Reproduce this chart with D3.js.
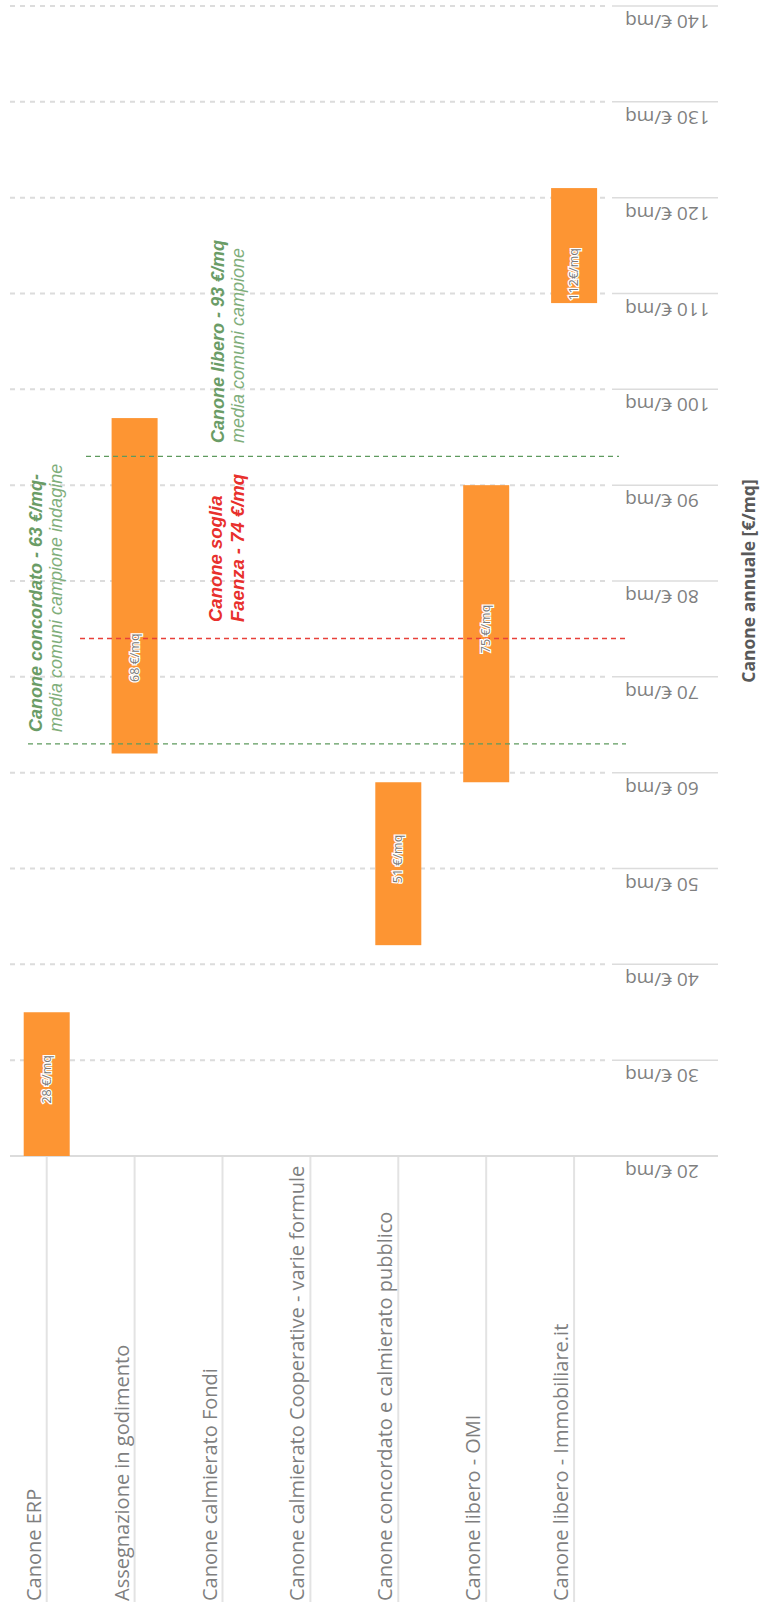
<!DOCTYPE html>
<html><head><meta charset="utf-8">
<script src="https://cdn.jsdelivr.net/npm/d3@7"></script>
<style>body{margin:0;background:#fff}svg{display:block}</style>
</head><body>
<svg id="c" width="760" height="1610"></svg>
<script>
const categories = ["Canone ERP","Assegnazione in godimento","Canone calmierato Fondi","Canone calmierato Cooperative - varie formule","Canone concordato e calmierato pubblico","Canone libero - OMI","Canone libero - Immobiliare.it"];
const lowValues  = [20, 62, null, null, 42, 59, 109];
const highValues = [35, 97, null, null, 59, 90, 121];
const barLabels  = ["28 €/mq","68 €/mq",null,null,"51 €/mq","75 €/mq","112€/mq"];
const barLabelAt = [28, 72, null, null, 51, 75, 112];
const tickValues = [20,30,40,50,60,70,80,90,100,110,120,130,140];
const tickLabels = ["20 €/mq","30 €/mq","40 €/mq","50 €/mq","60 €/mq","70 €/mq","80 €/mq","90 €/mq","100 €/mq","110 €/mq","120 €/mq","130 €/mq","140 €/mq"];
const refValues = [63, 93, 74];
const axisTitle = "Canone annuale [€/mq]";

const svg = d3.select("#c");
const y = d3.scaleLinear().domain([20,140]).range([1156, 6]);
const x = d3.scalePoint().domain(categories).range([46.7, 574.1]);
const barW = 46;
const grid = "#dcdcdc";

// gridlines
const g = svg.append("g");
tickValues.forEach((v,i)=>{
  const yy = y(v);
  if (v === 20) {
    g.append("line").attr("x1",10).attr("x2",718).attr("y1",yy).attr("y2",yy)
      .attr("stroke",grid).attr("stroke-width",2);
  } else {
    g.append("line").attr("x1",10).attr("x2",606).attr("y1",yy).attr("y2",yy)
      .attr("stroke",grid).attr("stroke-width",2).attr("stroke-dasharray","5,5");
    g.append("line").attr("x1",612).attr("x2",718).attr("y1",yy).attr("y2",yy)
      .attr("stroke",grid).attr("stroke-width",1.5);
  }
  g.append("text").attr("transform",`translate(625,${yy+9}) rotate(180)`)
    .attr("text-anchor","end").attr("font-family","Open Sans").attr("font-size",19)
    .attr("fill","#7f7f7f").text(tickLabels[i]);
});

// category separators and labels
categories.forEach((c,i)=>{
  const cx = x(c);
  g.append("line").attr("x1",cx).attr("x2",cx).attr("y1",1157).attr("y2",1602)
    .attr("stroke","#e3e3e3").attr("stroke-width",2);
  g.append("text").attr("transform",`translate(${cx-6},1601) rotate(-90)`)
    .attr("text-anchor","start").attr("font-family","Open Sans").attr("font-size",20)
    .attr("fill","#7f7f7f").text(c);
});

// bars
const data = categories.map((c,i)=>({c, lo:lowValues[i], hi:highValues[i], lab:barLabels[i], at:barLabelAt[i]})).filter(d=>d.lo!=null);
svg.append("g").selectAll("rect").data(data).join("rect")
  .attr("x",d=>x(d.c)-barW/2).attr("width",barW)
  .attr("y",d=>y(d.hi)).attr("height",d=>y(d.lo)-y(d.hi))
  .attr("fill","#fd9533");

// reference lines
const refs = [
  {v:refValues[0], x1:28, x2:626, color:"#5e9a5e"},
  {v:refValues[1], x1:86, x2:619, color:"#5e9a5e"},
  {v:refValues[2], x1:80, x2:628, color:"#e8403a"}
];
refs.forEach(r=>{
  svg.append("line").attr("x1",r.x1).attr("x2",r.x2).attr("y1",y(r.v)).attr("y2",y(r.v))
    .attr("stroke",r.color).attr("stroke-width",1.3).attr("stroke-dasharray","5,4");
});

// bar labels
svg.append("g").selectAll("text").data(data).join("text")
  .attr("transform",d=>`translate(${x(d.c)+4},${y(d.at)}) rotate(-90)`)
  .attr("text-anchor","middle").attr("font-family","Open Sans").attr("font-size",12.5)
  .attr("fill","#7a7a7a").attr("stroke","#ffffff").attr("stroke-width",2.5)
  .attr("paint-order","stroke").text(d=>d.lab);

// annotations
function ann(xb, yb, txt, opts){
  const t = svg.append("text").attr("transform",`translate(${xb},${yb}) rotate(-90)`)
    .attr("font-family","Liberation Sans, Arial").attr("font-size",opts.size||18)
    .attr("font-style","italic").attr("font-weight",opts.bold?"bold":"normal")
    .attr("fill",opts.color);
  if (Array.isArray(txt)) txt.forEach(p=>t.append("tspan").attr("font-style",p.s||"italic").text(p.t));
  else t.text(txt);
}
ann(42, 732, "Canone concordato - 63 €/mq-", {bold:true, color:"#6a9c66"});
ann(62, 732, "media comuni campione indagine", {color:"#7fae7b"});
ann(224, 443, "Canone libero - 93 €/mq", {bold:true, color:"#6a9c66"});
ann(244, 443, "media comuni campione", {color:"#7fae7b"});
ann(222, 622, "Canone soglia", {bold:true, color:"#e8302c", size:18.5});
ann(244, 622, "Faenza - 74 €/mq", {bold:true, color:"#e8302c", size:18.5});

// axis title
svg.append("text").attr("transform",`translate(755,${(y(20)+y(140))/2}) rotate(-90)`)
  .attr("text-anchor","middle").attr("font-family","Open Sans").attr("font-weight","bold")
  .attr("font-size",17.5).attr("fill","#595959").text(axisTitle);
</script>
</body></html>
